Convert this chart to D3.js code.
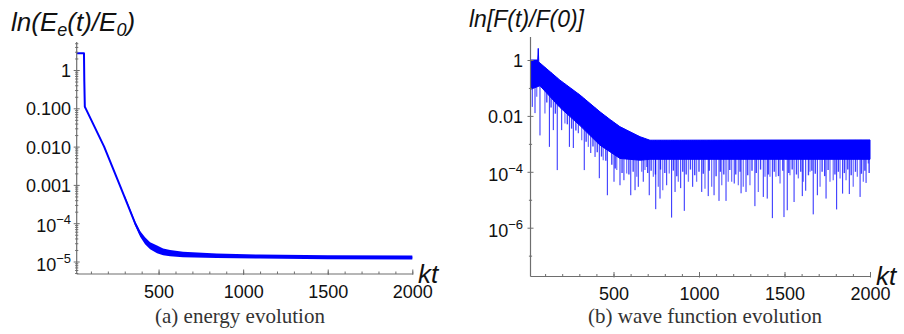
<!DOCTYPE html>
<html>
<head>
<meta charset="utf-8">
<script src="https://cdn.jsdelivr.net/npm/d3@7"></script>
<style>
  body { margin: 0; background: #fff; }
  svg { display: block; }
</style>
</head>
<body>
<svg id="chart" width="904" height="334"></svg>
<script>
// ---- data ----
// (a) energy: centre line
const energyT = [16, 59, 61, 64, 71, 178, 270, 361, 391, 420, 450, 491, 527, 568, 645, 844, 1100, 1500, 2000];
const energyV = [2.74, 2.74, 0.5, 0.11, 0.095, 0.01, 0.001, 1e-4, 5.3e-5, 3.5e-5, 2.6e-5, 2.1e-5, 1.8e-5, 1.66e-5, 1.55e-5, 1.42e-5, 1.35e-5, 1.3e-5, 1.28e-5];
// (a) energy: width of the noisy band
const energyBandT  = [300, 361, 391, 420, 450, 491, 527, 568, 645, 844, 1100, 1500, 2000];
const energyBandHi = [5.3e-4, 1.13e-4, 6.3e-5, 4.3e-5, 3.2e-5, 2.6e-5, 2.2e-5, 2.0e-5, 1.8e-5, 1.62e-5, 1.52e-5, 1.46e-5, 1.44e-5];
const energyBandLo = [4.7e-4, 8.8e-5, 4.4e-5, 2.8e-5, 2.1e-5, 1.65e-5, 1.46e-5, 1.37e-5, 1.3e-5, 1.23e-5, 1.2e-5, 1.15e-5, 1.13e-5];

// (b) wave function: dense band (upper envelope and lower solid edge)
const waveTopT = [16, 57, 60, 63, 70, 187, 304, 421, 480, 538, 655, 713, 2000];
const waveTopV = [1.0, 1.0, 2.6, 0.85, 0.78, 0.19, 0.056, 0.014, 0.0074, 0.0041, 0.0018, 0.00135, 0.00138];
const waveLowT = [16, 70, 187, 304, 421, 538, 655, 713, 1000, 1500, 2000];
const waveLowV = [0.09, 0.12, 0.02, 0.0045, 9e-4, 3.0e-4, 2.6e-4, 2.8e-4, 2.8e-4, 2.8e-4, 2.8e-4];
// (b) deep dips
const dipT = [25, 41, 70, 125, 148, 171, 197, 242, 265, 294, 329, 367, 392, 417, 464, 503, 538, 561, 601, 626,
  645, 674, 709, 747, 772, 811, 840, 860, 893, 914, 963, 1016, 1054, 1088, 1117, 1158, 1206, 1246, 1275, 1327,
  1376, 1399, 1429, 1497, 1516, 1556, 1604, 1624, 1668, 1692, 1743, 1805, 1840, 1879, 1942, 1977];
const dipV = [0.021, 0.0126, 0.002, 7.8e-4, 0.0031, 1.15e-4, 0.0031, 7.8e-4, 7.1e-4, 0.0024, 1.15e-4, 4.7e-4, 3.4e-4, 5.9e-5, 1.45e-5, 4.4e-5, 3.3e-5, 5.0e-5, 1.45e-5, 2.2e-5,
  2.9e-5, 4.4e-5, 1.45e-5, 4.6e-6, 1.1e-5, 3.3e-5, 2.3e-6, 1.9e-5, 2.6e-5, 4.0e-6, 2.9e-5, 1.9e-5, 1.35e-5, 1.45e-5, 9.1e-6, 9.1e-6, 3.8e-5, 1.7e-5, 1.9e-5, 5.9e-6,
  1.26e-5, 1.1e-5, 2.2e-6, 2.4e-6, 4.2e-6, 8.3e-6, 1.35e-5, 2.1e-5, 3.0e-6, 1.45e-5, 1.1e-5, 4.5e-6, 1.66e-5, 1.6e-5, 1.26e-5, 4.0e-5];
// (b) medium dips
const softT = [51, 99, 216, 314, 353, 440, 519, 577, 636, 665, 684, 694, 733, 762, 788, 826, 879, 938, 986, 1035,
  1074, 1133, 1171, 1191, 1230, 1259, 1298, 1347, 1386, 1415, 1450, 1474, 1532, 1581, 1610, 1649, 1708, 1766, 1785,
  1825, 1860, 1902, 1926, 1961, 1990];
const softV = [0.048, 0.0123, 0.0054, 0.00135, 7.8e-4, 2.6e-4, 1.15e-4, 8.7e-5, 6.6e-5, 1.0e-4, 1.15e-4, 1.5e-4, 6.6e-5, 2.9e-5, 2.2e-5, 8.7e-5, 4.4e-5, 4.4e-5, 4.4e-5, 2.5e-5,
  2.9e-5, 3.3e-5, 4.4e-5, 4.4e-5, 3.3e-5, 2.9e-5, 3.3e-5, 1.9e-5, 6.6e-5, 6.6e-5, 6.6e-5, 3.8e-5, 7.6e-5, 5.8e-5, 4.4e-5, 1.0e-4, 2.9e-5, 4.4e-5, 5.0e-5,
  5.8e-5, 5.0e-5, 2.9e-5, 6.6e-5, 4.4e-5, 2.0e-4];
// (b) short dips along the ragged lower edge
const shortT = [110, 135, 160, 230, 255, 280, 340, 380, 405, 430, 455, 490, 510, 550, 590, 615, 700, 720, 745, 775,
  800, 850, 870, 905, 925, 950, 975, 1000, 1025, 1060, 1100, 1125, 1145, 1180, 1215, 1240, 1285, 1310, 1335, 1360,
  1405, 1440, 1465, 1490, 1525, 1545, 1570, 1595, 1640, 1660, 1680, 1720, 1735, 1755, 1795, 1815, 1850, 1870, 1890,
  1915, 1950, 1970, 1995];
const shortV = [0.03, 0.02, 0.012, 0.005, 0.0035, 0.003, 0.0012, 8e-4, 5e-4, 3.5e-4, 2.5e-4, 1.8e-4, 1.3e-4, 9e-5, 8e-5, 1.0e-4, 9e-5, 1.1e-4, 8e-5, 1.2e-4,
  9e-5, 1.1e-4, 7e-5, 1.0e-4, 8e-5, 1.2e-4, 7.5e-5, 1.0e-4, 8.5e-5, 1.1e-4, 7e-5, 1.0e-4, 8e-5, 1.15e-4, 8e-5, 1.0e-4, 7.5e-5, 1.1e-4, 9e-5, 1.2e-4,
  8e-5, 1.0e-4, 7e-5, 1.1e-4, 9e-5, 1.2e-4, 8e-5, 1.0e-4, 7.5e-5, 1.1e-4, 8.5e-5, 1.0e-4, 7e-5, 1.15e-4, 8e-5, 1.0e-4, 9e-5, 1.2e-4, 7.5e-5,
  1.0e-4, 8.5e-5, 1.1e-4, 9e-5];

// tick labels
const xMajor = [500, 1000, 1500, 2000];
const xMinor = d3.range(100, 2001, 100);
const leftYTicks  = [1, 0.1, 0.01, 0.001, 1e-4, 1e-5];
const leftYLabels = ['1', '0.100', '0.010', '0.001', ['10', '\u22124'], ['10', '\u22125']];
const rightYTicks  = [1, 0.01, 1e-4, 1e-6];
const rightYLabels = ['1', '0.01', ['10', '\u22124'], ['10', '\u22126']];
const rightYMinor = [0.1, 1e-3, 1e-5, 1e-7];

const blue = '#0000ff';
const axisCol = '#6e6e6e';
const sans = '"Liberation Sans", Arial, sans-serif';

const svg = d3.select('#chart');

function zip(a, b) { return a.map((d, i) => [d, b[i]]); }

function drawAxes(x, y, o) {
  const g = svg.append('g');
  // x axis ticks (inward)
  const gx = g.append('g').attr('transform', `translate(0,${o.axisY})`);
  gx.call(d3.axisBottom(x).tickValues(xMinor).tickSize(-2.5).tickFormat(''));
  gx.select('.domain').remove();
  const gxM = g.append('g').attr('transform', `translate(0,${o.axisY})`);
  gxM.call(d3.axisBottom(x).tickValues(xMajor).tickSize(-4.5).tickFormat(d3.format('d')));
  gxM.select('.domain').remove();
  gxM.selectAll('.tick line').attr('y2', -4.5).attr('y1', 1);
  gxM.selectAll('text').attr('y', 23.5).attr('dy', null)
    .attr('font-family', sans).attr('font-size', 18).attr('fill', '#111');
  g.selectAll('.tick line').attr('stroke', axisCol);

  // y axis
  const gy = g.append('g').attr('transform', `translate(${o.axisX},0)`);
  gy.call(d3.axisLeft(y).tickValues(o.minorY).tickSize(0).tickFormat(''));
  gy.select('.domain').remove();
  gy.selectAll('.tick line').attr('x1', -1.6).attr('x2', 1.6).attr('stroke', axisCol);
  const gyM = g.append('g').attr('transform', `translate(${o.axisX},0)`);
  gyM.call(d3.axisLeft(y).tickValues(o.majorY).tickSize(0).tickFormat(''));
  gyM.select('.domain').remove();
  gyM.selectAll('.tick line').attr('x1', -3).attr('x2', 3).attr('stroke', axisCol);
  gyM.selectAll('.tick').each(function (d, i) {
    const lab = o.labels[i];
    const t = d3.select(this).append('text')
      .attr('x', o.labelX - o.axisX).attr('text-anchor', 'end')
      .attr('font-family', sans).attr('font-size', 18).attr('fill', '#111');
    if (typeof lab === 'string') {
      t.attr('y', 6.5).text(lab);
    } else {
      t.attr('y', 8.5);
      t.append('tspan').text(lab[0]);
      t.append('tspan').attr('dy', -8).attr('font-size', 13).text(lab[1]);
    }
  });

  // axis lines
  g.append('line').attr('x1', o.axisX).attr('x2', x(2000))
    .attr('y1', o.axisY).attr('y2', o.axisY).attr('stroke', axisCol).attr('stroke-width', 1.2);
  g.append('line').attr('x1', o.axisX).attr('x2', o.axisX)
    .attr('y1', o.axisTop).attr('y2', o.axisY).attr('stroke', axisCol).attr('stroke-width', 1.2);
}

// ---------- (a) energy ----------
const xL = d3.scaleLinear().domain([0, 2000]).range([74, 412.3]);
const yL = d3.scaleLog().domain([1e-5, 1]).range([261.5, 70]);

const leftMinor = [];
for (let e = -6; e <= 0; e++) for (let m = 2; m <= 9; m++) {
  const v = m * Math.pow(10, e);
  if (v > 4.9e-6 && v < 5.6) leftMinor.push(v);
}

svg.append('path')
  .datum(energyBandT.map((t, i) => [t, energyBandLo[i], energyBandHi[i]]))
  .attr('d', d3.area().x(d => xL(d[0])).y0(d => yL(d[1])).y1(d => yL(d[2])))
  .attr('fill', blue);
svg.append('path')
  .datum(zip(energyT, energyV))
  .attr('d', d3.line().x(d => xL(d[0])).y(d => yL(d[1])))
  .attr('fill', 'none').attr('stroke', blue).attr('stroke-width', 2).attr('stroke-linejoin', 'round');

drawAxes(xL, yL, {
  axisX: 76.7, axisY: 274, axisTop: 42, labelX: 71,
  majorY: leftYTicks, minorY: leftMinor, labels: leftYLabels
});

// ---------- (b) wave function ----------
const xR = d3.scaleLinear().domain([0, 2000]).range([528, 870]);
const yR = d3.scaleLog().domain([1e-6, 1]).range([227.7, 60]);

const topLine = d3.line().x(d => xR(d[0])).y(d => yR(d[1]));
const topPts = zip(waveTopT, waveTopV);
const lowPts = zip(waveLowT, waveLowV).reverse();

// envelope value at time t, for the tops of the dips
const topAt = t => {
  const i = d3.bisectRight(waveTopT, t);
  const i0 = Math.max(0, i - 1), i1 = Math.min(waveTopT.length - 1, i);
  if (i0 === i1) return waveTopV[i0];
  const f = (t - waveTopT[i0]) / (waveTopT[i1] - waveTopT[i0]);
  return Math.exp(Math.log(waveTopV[i0]) * (1 - f) + Math.log(waveTopV[i1]) * f);
};

function dips(ts, vs, opacity, width) {
  svg.append('g').selectAll('line')
    .data(zip(ts, vs)).join('line')
    .attr('x1', d => xR(d[0])).attr('x2', d => xR(d[0]))
    .attr('y1', d => yR(topAt(d[0]))).attr('y2', d => yR(d[1]))
    .attr('stroke', blue).attr('stroke-opacity', opacity).attr('stroke-width', width);
}
dips(shortT, shortV, 0.75, 1.4);
dips(softT, softV, 0.55, 1.3);
dips(dipT, dipV, 0.85, 1);

svg.append('path')
  .attr('d', topLine(topPts.concat(lowPts)) + 'Z')
  .attr('fill', blue).attr('stroke', blue).attr('stroke-width', 1);

drawAxes(xR, yR, {
  axisX: 530.5, axisY: 276.5, axisTop: 37, labelX: 523,
  majorY: rightYTicks, minorY: rightYMinor, labels: rightYLabels
});

// ---------- titles ----------
const lt = svg.append('text').attr('x', 11).attr('y', 31)
  .attr('font-family', sans).attr('font-style', 'italic').attr('font-size', 26).attr('fill', '#111');
lt.append('tspan').text('ln(E');
lt.append('tspan').attr('font-size', 18).attr('dy', 5).text('e');
lt.append('tspan').attr('dy', -5).text('(t)/E');
lt.append('tspan').attr('font-size', 18).attr('dy', 5).text('0');
lt.append('tspan').attr('dy', -5).text(')');

svg.append('text').attr('x', 469).attr('y', 27)
  .attr('font-family', sans).attr('font-style', 'italic').attr('font-size', 23).attr('fill', '#111')
  .text('ln[F(t)/F(0)]');

svg.append('text').attr('x', 418).attr('y', 283)
  .attr('font-family', sans).attr('font-style', 'italic').attr('font-size', 26).attr('fill', '#111').text('kt');
svg.append('text').attr('x', 876).attr('y', 285)
  .attr('font-family', sans).attr('font-style', 'italic').attr('font-size', 26).attr('fill', '#111').text('kt');

// ---------- captions ----------
const serif = '"Liberation Serif", "DejaVu Serif", serif';
svg.append('text').attr('x', 240).attr('y', 323).attr('text-anchor', 'middle')
  .attr('font-family', serif).attr('font-size', 21).attr('fill', '#333').text('(a) energy evolution');
svg.append('text').attr('x', 705).attr('y', 323).attr('text-anchor', 'middle')
  .attr('font-family', serif).attr('font-size', 21).attr('fill', '#333').text('(b) wave function evolution');
</script>
</body>
</html>
